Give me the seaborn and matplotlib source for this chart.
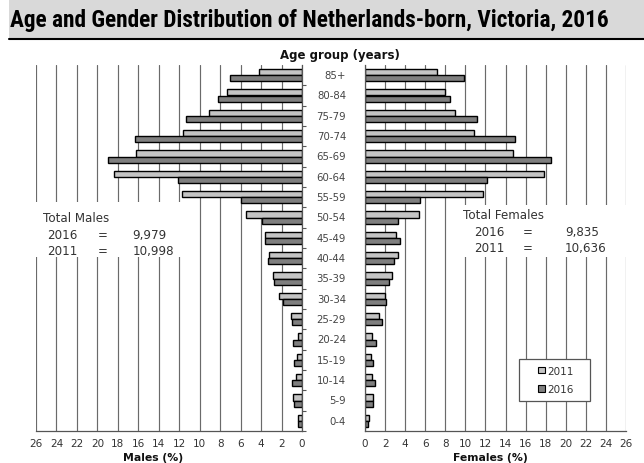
import numpy as np
import pandas as pd
import matplotlib
matplotlib.use("Agg")
import matplotlib.pyplot as plt
from matplotlib.patches import Rectangle, Patch
from matplotlib.lines import Line2D
import matplotlib.transforms as mtransforms
import seaborn as sns

# ---------------- data ----------------
ages = ["85+", "80-84", "75-79", "70-74", "65-69", "60-64", "55-59", "50-54", "45-49",
        "40-44", "35-39", "30-34", "25-29", "20-24", "15-19", "10-14", "5-9", "0-4"]
males_2011 = [4.2, 7.3, 9.1, 11.6, 16.2, 18.4, 11.7, 5.5, 3.6,
              3.2, 2.8, 2.2, 1.1, 0.4, 0.5, 0.6, 0.85, 0.35]
males_2016 = [7.0, 8.2, 11.3, 16.3, 19.0, 12.1, 6.0, 3.9, 3.6,
              3.35, 2.75, 1.9, 1.0, 0.85, 0.75, 1.0, 0.8, 0.35]
females_2011 = [7.2, 8.0, 9.0, 10.9, 14.7, 17.8, 11.8, 5.4, 3.1,
                3.3, 2.7, 1.95, 1.4, 0.7, 0.6, 0.65, 0.8, 0.35]
females_2016 = [9.9, 8.5, 11.2, 14.9, 18.5, 12.2, 5.5, 3.3, 3.5,
                2.9, 2.35, 2.05, 1.65, 1.1, 0.75, 1.0, 0.8, 0.25]
years = ["2011", "2016"]
xticks = list(range(0, 27, 2))

title = "Age and Gender Distribution of Netherlands-born, Victoria, 2016"
males_totals = [("2016", "9,979"), ("2011", "10,998")]
females_totals = [("2016", "9,835"), ("2011", "10,636")]

LIGHT = "#c4c4c4"
DARK = "#7f7f7f"
GRID = "#6a6a6a"
TXT = "#333333"

sns.set_style("white")
plt.rcParams["font.family"] = ["DejaVu Sans"]

W, H = 644, 464
fig = plt.figure(figsize=(W / 100, H / 100), dpi=100)


def fx(px):
    return px / W


def fy(py):
    return 1 - py / H


def long_df(v2011, v2016):
    return pd.DataFrame({
        "age": ages * 2,
        "year": [years[0]] * len(ages) + [years[1]] * len(ages),
        "pct": list(v2011) + list(v2016),
    })


top, bottom = 66, 432
axL = fig.add_axes([fx(36), fy(bottom), fx(302) - fx(36), (bottom - top) / H])
axR = fig.add_axes([fx(365), fy(bottom), fx(626) - fx(365), (bottom - top) / H])

for ax, (a, b) in ((axL, (males_2011, males_2016)), (axR, (females_2011, females_2016))):
    sns.barplot(data=long_df(a, b), x="pct", y="age", hue="year", order=ages,
                hue_order=years, palette=[LIGHT, DARK], orient="h", width=0.62,
                gap=0, edgecolor="black", linewidth=1.0, legend=False, ax=ax,
                errorbar=None)
    ax.set_axisbelow(True)
    ax.grid(axis="x", color=GRID, linewidth=0.85)
    ax.grid(axis="y", visible=False)
    ax.set_xlabel("")
    ax.set_ylabel("")
    ax.set_ylim(len(ages) - 0.5, -0.5)
    ax.set_xticks(xticks)
    ax.set_xticklabels([str(t) for t in xticks], fontsize=7.5, color=TXT)
    ax.tick_params(axis="x", length=0, pad=5)
    ax.set_yticks(np.arange(0.5, len(ages), 1))
    ax.tick_params(axis="y", length=3, width=0.8, color="#555555", labelleft=False,
                   labelright=False)
    for s in ax.spines.values():
        s.set_visible(False)
    ax.spines["bottom"].set_visible(True)
    ax.spines["bottom"].set_color("#555555")
    ax.spines["bottom"].set_linewidth(0.9)

axL.set_xlim(26, 0)
axR.set_xlim(0, 26)
axL.yaxis.tick_right()
axL.tick_params(axis="y", labelright=False)
axL.spines["right"].set_visible(True)
axL.spines["right"].set_color("#555555")
axL.spines["right"].set_linewidth(0.9)
axR.spines["left"].set_visible(True)
axR.spines["left"].set_color("#555555")
axR.spines["left"].set_linewidth(0.9)

# age labels in the middle
trans = mtransforms.blended_transform_factory(fig.transFigure, axR.transData)
for i, a in enumerate(ages):
    fig.text(fx(346), 0, a, transform=trans, ha="right", va="center",
             fontsize=7.3, color="#444444").set_y(i)

# title band
fig.add_artist(Rectangle((fx(9), fy(39)), 1 - fx(9), 39 / H, transform=fig.transFigure,
                         facecolor="#d9d9d9", edgecolor="none", zorder=0))
fig.add_artist(Line2D([fx(9), 1], [fy(40), fy(40)], transform=fig.transFigure,
                      color="black", linewidth=1.5))
t = fig.text(fx(10), fy(20), title, ha="left", va="center", fontsize=15, weight="bold",
             family=["Liberation Sans Narrow", "Roboto Condensed", "DejaVu Sans"],
             fontstretch="condensed", color="black")
fig.canvas.draw()
r = fig.canvas.get_renderer()
wpx = t.get_window_extent(r).width
t.set_fontsize(15 * 601 / wpx)

fig.text(fx(339.5), fy(56), "Age group (years)", ha="center", va="center",
         fontsize=8.5, weight="bold", color="#111111")
fig.text(fx(153.5), fy(458), "Males (%)", ha="center", va="center",
         fontsize=7.8, weight="bold", color="#111111")
fig.text(fx(490), fy(458), "Females (%)", ha="center", va="center",
         fontsize=7.8, weight="bold", color="#111111")

# totals boxes
fig.add_artist(Rectangle((fx(33), fy(258)), fx(186) - fx(33), (258 - 203) / H,
                         transform=fig.transFigure, facecolor="white", edgecolor="none",
                         zorder=1))
fig.add_artist(Rectangle((fx(455), fy(258)), fx(630) - fx(455), (258 - 206) / H,
                         transform=fig.transFigure, facecolor="white", edgecolor="none",
                         zorder=1))
fs = 8.6
fig.text(fx(42.7), fy(219), "Total Males", ha="left", va="center", fontsize=fs,
         color=TXT, zorder=2)
for (yr, val), y in zip(males_totals, (235.7, 252)):
    fig.text(fx(47), fy(y), yr, ha="left", va="center", fontsize=fs, color=TXT, zorder=2)
    fig.text(fx(102.5), fy(y), "=", ha="center", va="center", fontsize=fs, color=TXT, zorder=2)
    fig.text(fx(132.7), fy(y), val, ha="left", va="center", fontsize=fs, color=TXT, zorder=2)

fig.text(fx(462.7), fy(216), "Total Females", ha="left", va="center", fontsize=fs,
         color=TXT, zorder=2)
for (yr, val), y in zip(females_totals, (232.7, 249)):
    fig.text(fx(474.3), fy(y), yr, ha="left", va="center", fontsize=fs, color=TXT, zorder=2)
    fig.text(fx(527.8), fy(y), "=", ha="center", va="center", fontsize=fs, color=TXT, zorder=2)
    fig.text(fx(565), fy(y), val, ha="left", va="center", fontsize=fs, color=TXT, zorder=2)

# legend
fig.add_artist(Rectangle((fx(519), fy(402)), fx(590) - fx(519), (402 - 360) / H,
                         transform=fig.transFigure, facecolor="white", edgecolor="#555555",
                         linewidth=0.9, zorder=3))
handles = [Patch(facecolor=c, edgecolor="black", linewidth=0.8) for c in (LIGHT, DARK)]
leg = fig.legend(handles, years, loc="center", bbox_to_anchor=(fx(556), fy(381)),
                 frameon=False, fontsize=7.5, handlelength=0.6, handleheight=0.6,
                 handletextpad=0.25, labelspacing=0.85, borderpad=0)
leg.set_zorder(4)
for txt in leg.get_texts():
    txt.set_color(TXT)

fig.savefig("out.png", dpi=100)
